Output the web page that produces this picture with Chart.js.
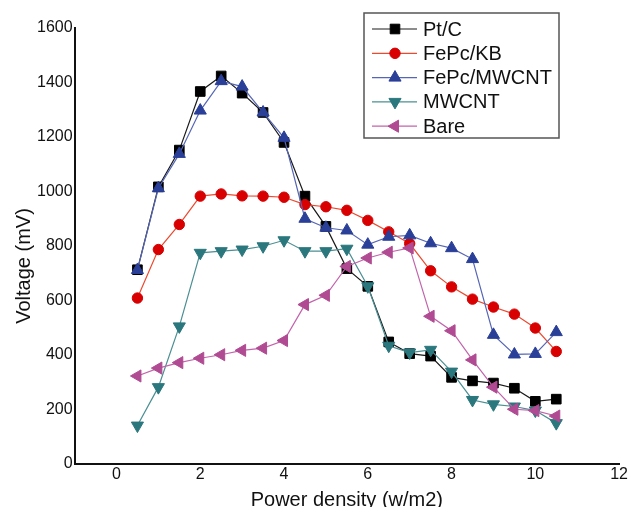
<!DOCTYPE html>
<html>
<head>
<meta charset="utf-8">
<script src="https://cdn.jsdelivr.net/npm/chart.js@4.4.1/dist/chart.umd.min.js"></script>
<style>
  html, body { margin: 0; padding: 0; background: #fff; }
</style>
</head>
<body>
<canvas id="powerChart" width="629" height="507"></canvas>
<script>
// --- Data ---
const powerDensity = [0.5, 1, 1.5, 2, 2.5, 3, 3.5, 4, 4.5, 5, 5.5, 6, 6.5, 7, 7.5, 8, 8.5, 9, 9.5, 10, 10.5];
const ptC        = [713, 1017, 1152, 1367, 1424, 1361, 1290, 1180, 983, 872, 717, 652, 448, 405, 396, 318, 305, 297, 278, 230, 238];
const fepcKB     = [609, 787, 879, 983, 991, 984, 983, 979, 952, 944, 931, 894, 852, 809, 709, 650, 605, 576, 550, 499, 413];
const fepcMWCNT  = [712, 1012, 1138, 1297, 1405, 1385, 1290, 1197, 900, 867, 857, 805, 834, 839, 810, 792, 752, 474, 402, 404, 484];
const mwcnt      = [141, 282, 505, 775, 781, 787, 799, 821, 781, 781, 790, 652, 434, 409, 419, 339, 235, 219, 211, 196, 150];
const bare       = [323, 352, 372, 388, 401, 417, 425, 453, 585, 619, 725, 756, 777, 793, 542, 489, 382, 282, 201, 196, 176];
const seriesNames = ["Pt/C", "FePc/KB", "FePc/MWCNT", "MWCNT", "Bare"];
const yTicks = [0, 200, 400, 600, 800, 1000, 1200, 1400, 1600];
const xTicks = [0, 2, 4, 6, 8, 10, 12];

const FONT = "'Liberation Sans', Arial, Helvetica, sans-serif";

function pts(vals) {
    return vals.map((v, i) => ({ x: powerDensity[i], y: v }));
}

function series(label, vals, line, marker, style, rotation, radius, order) {
    return {
        label: label,
        data: pts(vals),
        borderColor: line,
        backgroundColor: marker,
        borderWidth: 1.2,
        pointStyle: style,
        rotation: rotation,
        pointRadius: radius,
        pointBackgroundColor: marker,
        pointBorderColor: marker,
        pointBorderWidth: 1,
        tension: 0,
        order: order,
    };
}

const datasets = [
    series(seriesNames[0], ptC, "#1a1a1a", "#000000", "rect", 0, 6.8, 5),
    series(seriesNames[1], fepcKB, "#ec4a30", "#d80000", "circle", 0, 5.2, 4),
    series(seriesNames[2], fepcMWCNT, "#5666b6", "#2a3f98", "triangle", 0, 7, 3),
    series(seriesNames[3], mwcnt, "#4a8f93", "#2a777d", "triangle", 180, 7, 2),
    series(seriesNames[4], bare, "#c264ab", "#b04a92", "triangle", -90, 7, 1),
];

// --- Boxed legend with line + marker samples, drawn in the top right ---
const boxLegend = {
    id: "boxLegend",
    afterDraw(chart) {
        const ctx = chart.ctx;
        const left = 364, top = 13, w = 195, h = 125;
        ctx.save();
        ctx.fillStyle = "#fff";
        ctx.fillRect(left, top, w, h);
        ctx.strokeStyle = "#555";
        ctx.lineWidth = 1.5;
        ctx.strokeRect(left, top, w, h);
        ctx.font = "20px " + FONT;
        ctx.textBaseline = "middle";
        datasets.forEach((ds, i) => {
            const y = top + 16 + i * 24.3;
            ctx.strokeStyle = ds.borderColor;
            ctx.lineWidth = 1.2;
            ctx.beginPath();
            ctx.moveTo(372, y);
            ctx.lineTo(417, y);
            ctx.stroke();
            ctx.fillStyle = ds.pointBackgroundColor;
            ctx.strokeStyle = ds.pointBorderColor;
            ctx.lineWidth = 1;
            Chart.helpers.drawPoint(ctx, {
                pointStyle: ds.pointStyle,
                rotation: ds.rotation,
                radius: ds.pointRadius,
                borderWidth: 1,
            }, 395, y);
            ctx.fillStyle = "#111";
            ctx.fillText(ds.label, 423, y + 1);
        });
        ctx.restore();
    },
};

// --- Y axis title, sits a bit below the axis middle as in the reference ---
const yTitle = {
    id: "yTitle",
    afterDraw(chart) {
        const ctx = chart.ctx;
        ctx.save();
        ctx.translate(24, 266);
        ctx.rotate(-Math.PI / 2);
        ctx.font = "20px " + FONT;
        ctx.fillStyle = "#111";
        ctx.textAlign = "center";
        ctx.textBaseline = "middle";
        ctx.fillText("Voltage (mV)", 0, 0);
        ctx.restore();
    },
};

// --- Chart setup ---
const ctx = document.getElementById("powerChart").getContext("2d");
const powerChart = new Chart(ctx, {
    type: "line",
    data: { datasets: datasets },
    options: {
        responsive: false,
        animation: false,
        layout: { padding: { top: 28, right: 9, left: 0, bottom: 0 } },
        scales: {
            x: {
                type: "linear",
                min: -1,
                max: 12,
                afterBuildTicks: s => { s.ticks = xTicks.map(v => ({ value: v })); },
                afterFit: s => { s.height = 43; },
                grid: { display: false, drawTicks: false },
                border: { display: true, color: "#111", width: 2 },
                ticks: { color: "#111", padding: 1, font: { family: FONT, size: 16 }, callback: v => String(v) },
                title: {
                    display: true,
                    text: "Power density (w/m2)",
                    color: "#111",
                    padding: { top: 0, bottom: -3 },
                    font: { family: FONT, size: 20, lineHeight: 1 },
                },
            },
            y: {
                min: 0,
                max: 1600,
                afterBuildTicks: s => { s.ticks = yTicks.map(v => ({ value: v })); },
                afterFit: s => { s.width = 74.6; },
                grid: { display: false, drawTicks: false },
                border: { display: true, color: "#111", width: 2 },
                ticks: { color: "#111", padding: 2, font: { family: FONT, size: 16 }, callback: v => String(v) },
            },
        },
        plugins: {
            legend: { display: false },
            tooltip: { enabled: false },
        },
    },
    plugins: [boxLegend, yTitle],
});
</script>
</body>
</html>
